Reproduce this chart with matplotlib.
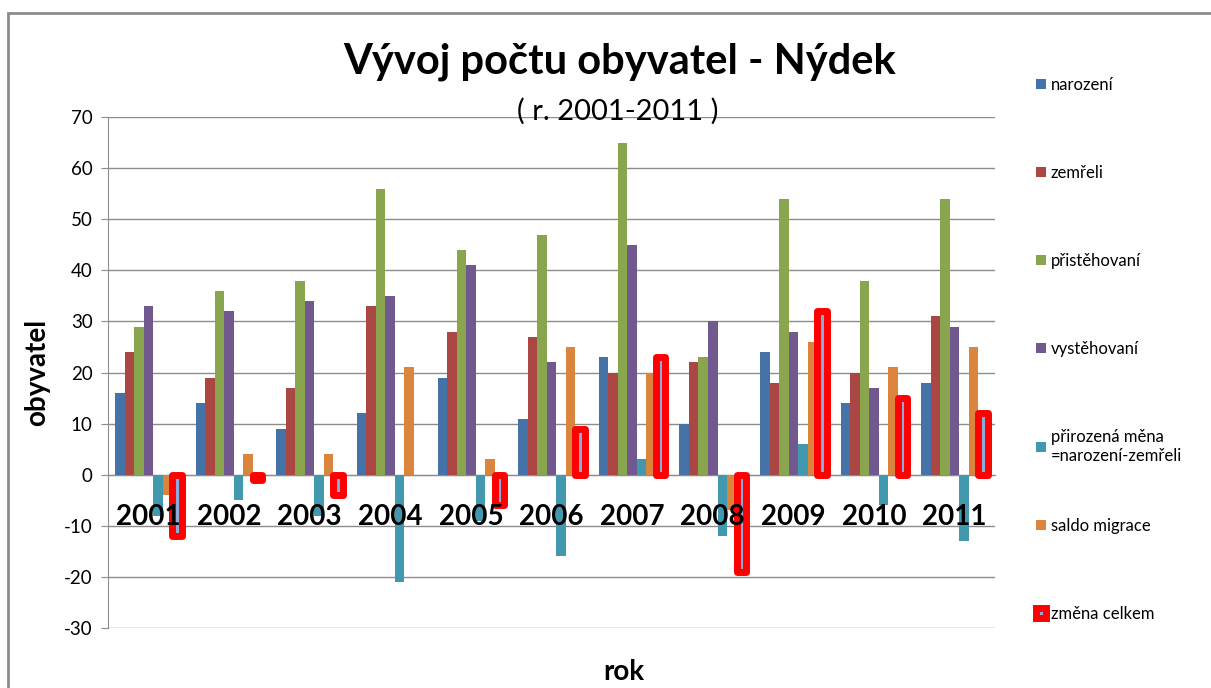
import numpy as np
import matplotlib
matplotlib.use('Agg')
from matplotlib import pyplot as plt
from matplotlib.patches import Rectangle

plt.rcParams['font.family'] = ['Lato', 'DejaVu Sans']
plt.rcParams['axes.unicode_minus'] = False

years = ['2001', '2002', '2003', '2004', '2005', '2006', '2007', '2008', '2009', '2010', '2011']
narozeni = [16, 14, 9, 12, 19, 11, 23, 10, 24, 14, 18]
zemreli = [24, 19, 17, 33, 28, 27, 20, 22, 18, 20, 31]
pristehovani = [29, 36, 38, 56, 44, 47, 65, 23, 54, 38, 54]
vystehovani = [33, 32, 34, 35, 41, 22, 45, 30, 28, 17, 29]
prirozena = [-8, -5, -8, -21, -9, -16, 3, -12, 6, -6, -13]
saldo = [-4, 4, 4, 21, 3, 25, 20, -7, 26, 21, 25]
zmena = [-12, -1, -4, 0, -6, 9, 23, -19, 32, 15, 12]

labels = ['narození', 'zemřeli', 'přistěhovaní', 'vystěhovaní',
          'přirozená měna\n=narození-zemřeli', 'saldo migrace', 'změna celkem']
colors = ['#4572A7', '#AA4643', '#89A54E', '#71588F', '#4198AF', '#DB843D']

fig = plt.figure(figsize=(12.11, 6.88), dpi=100)
ax = fig.add_axes([0.0892, 0.0872, 0.7324, 0.7427])

x = np.arange(len(years))
w = 0.118
series = [narozeni, zemreli, pristehovani, vystehovani, prirozena, saldo]
for i, s in enumerate(series):
    ax.bar(x + (i - 3) * w, s, w, color=colors[i], label=labels[i], zorder=3)
# zero change -> no outline drawn
lw = [0 if v == 0 else 5 for v in zmena]
ax.bar(x + 3 * w, zmena, w, color='#8EA9DB', edgecolor='#FF0000',
       linewidth=lw, joinstyle='round', label=labels[6], zorder=4)

ax.set_xlim(-0.5, len(years) - 0.5)
ax.set_ylim(-30, 70)
ax.set_yticks(range(-30, 71, 10))
ax.yaxis.grid(True, color='#8C8C8C', linewidth=1, zorder=0)
ax.set_axisbelow(True)
for sp in ['top', 'right']:
    ax.spines[sp].set_visible(False)
ax.spines['left'].set_color('#8C8C8C')
ax.spines['bottom'].set_position(('data', 0))
ax.spines['bottom'].set_color('#8C8C8C')
ax.set_xticks(x)
ax.set_xticklabels(years, fontsize=20, fontweight='bold')
ax.xaxis.set_zorder(5)
ax.tick_params(axis='x', length=0, pad=21)
ax.tick_params(axis='y', labelsize=13.5, color='#8C8C8C', length=5, pad=6)

ax.set_ylabel('obyvatel', fontsize=20, fontweight='bold', labelpad=10)
fig.text(0.515, 0.005, 'rok', fontsize=20, fontweight='bold', ha='center', va='bottom')

fig.text(0.512, 0.91, 'Vývoj počtu obyvatel - Nýdek', fontsize=30, fontweight='bold',
         ha='center', va='center')
fig.text(0.51, 0.838, '( r. 2001-2011 )', fontsize=21, ha='center', va='center')

handles, labs = ax.get_legend_handles_labels()
leg_opts = dict(frameon=False, fontsize=12, labelspacing=4.32, handlelength=0.6,
                handleheight=0.6, handletextpad=0.3, loc='upper left',
                bbox_transform=fig.transFigure)
leg1 = ax.legend(handles[:5], labs[:5], bbox_to_anchor=(0.843, 0.91), **leg_opts)
ax.add_artist(leg1)
ax.legend(handles[5:], labs[5:], bbox_to_anchor=(0.843, 0.2688), **leg_opts)

fig.patches.append(Rectangle((8 / 1211, -0.1), 1.2, 1 - 13 / 688 + 0.1, transform=fig.transFigure,
                             fill=False, edgecolor='#8C8C8C', linewidth=2))

fig.savefig('out.png', dpi=100)
